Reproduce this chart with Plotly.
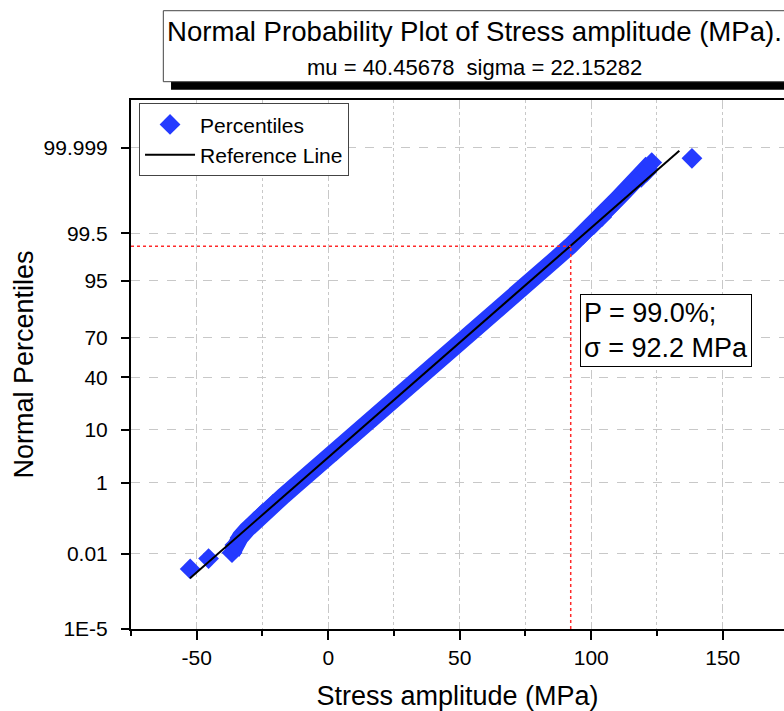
import plotly.graph_objects as go
from statistics import NormalDist

# ---------------- data ----------------
mu = 40.45678
sigma = 22.15282

stress_mpa = [-52.5, -45.5, -36.6, -35.5, -33.5, -31.0, -28.0, -25.0, -21.0, -17.0,
              -13.0, -8.0, -3.0, 3.0, 10.0, 18.0, 26.0, 34.0, 42.0, 50.0,
              58.0, 66.0, 74.0, 81.0, 87.0, 92.0, 97.0, 101.0, 104.0, 107.0,
              110.0, 113.0, 116.0, 119.0, 121.0, 123.0, 138.3]
percentile = [0.00292, 0.0068, 0.0108, 0.0193, 0.0337, 0.0577, 0.1035, 0.169, 0.298, 0.494,
              0.82, 1.463, 2.5, 4.46, 8.38, 15.39, 25.78, 38.59, 52.79, 66.64,
              78.52, 87.49, 93.45, 96.64, 98.21, 99.01, 99.477, 99.702, 99.8134, 99.8965,
              99.9443, 99.9687, 99.9815, 99.9883, 99.9922, 99.9964, 99.99748]

ref_line_quantiles = [-4.2, 4.2]          # extent of the fitted reference line (normal quantiles)

x_tick_vals = [-50, 0, 50, 100, 150]
x_tick_text = ["-50", "0", "50", "100", "150"]
y_tick_percent = [1e-5, 0.01, 1, 10, 40, 70, 95, 99.5, 99.999]
y_tick_text = ["1E-5", "0.01", "1", "10", "40", "70", "95", "99.5", "99.999"]
y_range_percent = [1e-5, 100 - 1e-5]
x_range = [-75, 173.3]

mark_p = 99.0      # P = 99.0 %
mark_sigma = 92.2  # sigma = 92.2 MPa

# ---------------- helpers ----------------
N = NormalDist()
def probit(p_percent):
    return N.inv_cdf(p_percent / 100.0)

z_data = [probit(p) for p in percentile]
ref_x = [mu + sigma * q for q in ref_line_quantiles]

BLUE = "rgb(36,58,255)"
FONT = "Liberation Sans, Arial, sans-serif"
GRID = "#c8c8c8"

fig = go.Figure()

# dense band of percentile points
fig.add_trace(go.Scatter(x=stress_mpa[2:-1], y=z_data[2:-1], mode="lines",
                         line=dict(color=BLUE, width=17), showlegend=False,
                         hoverinfo="skip"))
fig.add_trace(go.Scatter(x=stress_mpa, y=z_data, mode="markers", name="Percentiles",
                         marker=dict(symbol="diamond", size=16, color=BLUE,
                                     line=dict(width=0))))
fig.add_trace(go.Scatter(x=ref_x, y=ref_line_quantiles, mode="lines", name="Reference Line",
                         line=dict(color="black", width=2)))

z_mark = probit(mark_p)
y_lo = probit(y_range_percent[0])
y_hi = probit(y_range_percent[1])

shapes = [
    # red dotted guide lines
    dict(type="line", xref="x", yref="y", x0=x_range[0], x1=mark_sigma, y0=z_mark, y1=z_mark,
         line=dict(color="#ff2a2a", width=1.5, dash="dot")),
    dict(type="line", xref="x", yref="y", x0=mark_sigma, x1=mark_sigma, y0=y_lo, y1=z_mark,
         line=dict(color="#ff2a2a", width=1.5, dash="dot")),
    # title box shadow and box
    dict(type="rect", xref="paper", yref="paper", x0=0.0613, x1=1.05, y0=1.0195, y1=1.154,
         fillcolor="black", line=dict(width=0), layer="above"),
    dict(type="rect", xref="paper", yref="paper", x0=0.0495, x1=1.05, y0=1.0346, y1=1.1688,
         fillcolor="white", line=dict(color="#444444", width=1), layer="above"),
]

annotations = [
    dict(text="Normal Probability Plot of Stress amplitude (MPa).", xref="paper", yref="paper",
         x=0.526, y=1.1304, xanchor="center", yanchor="middle", showarrow=False,
         font=dict(family=FONT, size=27.6, color="black")),
    dict(text=f"mu = {mu:.5f}\u00a0 sigma = {sigma:.5f}", xref="paper", yref="paper",
         x=0.526, y=1.0605, xanchor="center", yanchor="middle", showarrow=False,
         font=dict(family=FONT, size=22, color="black")),
    dict(text=f"P = {mark_p:.1f}%;<br>σ = {mark_sigma:.1f} MPa", xref="paper", yref="paper",
         x=0.6876, y=0.6327, xanchor="left", yanchor="top", align="left", showarrow=False,
         bgcolor="white", bordercolor="black", borderwidth=1, borderpad=3,
         font=dict(family=FONT, size=27, color="black")),
]

fig.update_layout(
    width=784, height=711,
    margin=dict(l=131, r=0, t=100, b=82, autoexpand=False),
    paper_bgcolor="white", plot_bgcolor="white",
    font=dict(family=FONT, color="black"),
    shapes=shapes, annotations=annotations,
    legend=dict(x=0.0123, y=0.9938, xanchor="left", yanchor="top",
                bgcolor="white", bordercolor="#444444", borderwidth=1,
                font=dict(family=FONT, size=21, color="black"),
                tracegroupgap=0, itemwidth=50),
    xaxis=dict(range=x_range, tickmode="array", tickvals=x_tick_vals, ticktext=x_tick_text,
               ticks="outside", ticklen=9, tickwidth=1.5, tickcolor="black",
               showline=True, linecolor="black", linewidth=2, mirror=True,
               showgrid=True, gridcolor=GRID, gridwidth=1, griddash="dash",
               zeroline=False, ticklabelstandoff=0,
               tickfont=dict(family=FONT, size=21, color="black"),
               minor=dict(dtick=25, tick0=0, ticks="outside", ticklen=5, tickwidth=1.5,
                          tickcolor="black", showgrid=True, gridcolor=GRID, griddash="dot",
                          gridwidth=1),
               title=dict(text="Stress amplitude (MPa)", standoff=20,
                          font=dict(family=FONT, size=27, color="black"))),
    yaxis=dict(range=[y_lo, y_hi], tickmode="array",
               tickvals=[probit(p) for p in y_tick_percent], ticktext=y_tick_text,
               ticks="outside", ticklen=8, tickwidth=1.5, tickcolor="black",
               showline=True, linecolor="black", linewidth=2, mirror=False,
               showgrid=True, gridcolor=GRID, gridwidth=1, griddash="dash",
               zeroline=False, ticklabelstandoff=9,
               tickfont=dict(family=FONT, size=21, color="black"),
               title=dict(text="Normal Percentiles", standoff=2,
                          font=dict(family=FONT, size=27, color="black"))),
)

fig.write_html("out.html")
